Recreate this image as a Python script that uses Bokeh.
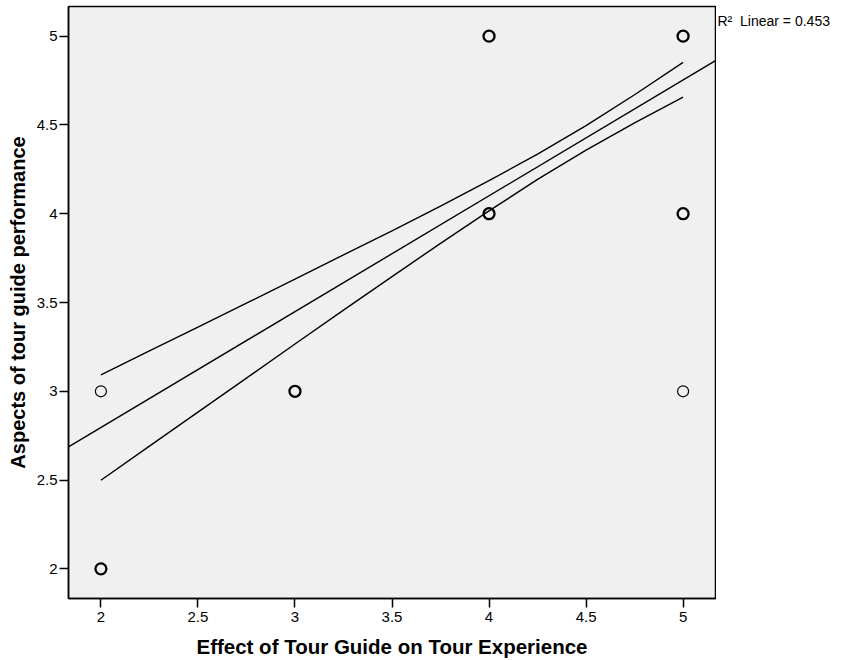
import pandas as pd
from bokeh.plotting import figure
from bokeh.layouts import row
from bokeh.models import Range1d, FixedTicker, Label
from bokeh.models import ColumnDataSource
from bokeh.embed import file_html
from bokeh.resources import INLINE

# observations (duplicates drawn thicker, as in the original)
obs_x = [2, 2, 2, 3, 3, 4, 4, 4, 4, 5, 5, 5, 5, 5]
obs_y = [3, 2, 2, 3, 3, 5, 5, 4, 4, 5, 5, 4, 4, 3]

# axis extents of the plotting box
x_min, x_max = 1.833, 5.167
y_min, y_max = 1.833, 5.167

# fitted line
fit_intercept = 1.491
fit_slope = 0.6525
r2_text = "R\u00b2\u00a0 Linear = 0.453"

# 95% mean confidence band
band_x = [2.0, 2.25, 2.5, 2.75, 3.0, 3.25, 3.5, 3.75, 4.0, 4.25, 4.5, 4.75, 5.0]
band_upper = [3.093, 3.227, 3.361, 3.496, 3.632, 3.768, 3.904, 4.043, 4.186, 4.336, 4.496, 4.670, 4.852]
band_lower = [2.499, 2.691, 2.883, 3.074, 3.266, 3.457, 3.646, 3.833, 4.016, 4.193, 4.358, 4.511, 4.656]

x_ticks = [2, 2.5, 3, 3.5, 4, 4.5, 5]
x_tick_labels = ["2", "2.5", "3", "3.5", "4", "4.5", "5"]
y_ticks = [2, 2.5, 3, 3.5, 4, 4.5, 5]
y_tick_labels = ["2", "2.5", "3", "3.5", "4", "4.5", "5"]

x_title = "Effect of Tour Guide on Tour Experience"
y_title = "Aspects of tour guide performance"

FONT = "Liberation Sans"

df = pd.DataFrame({"x": obs_x, "y": obs_y})
cnt = df.groupby(["x", "y"]).size().reset_index(name="n")
cnt["lw"] = cnt["n"].apply(lambda n: 2.3 if n > 1 else 1.2)
src = ColumnDataSource(cnt)

H = 660
BL, BT, BB = 68, 6, 62

p = figure(width=716, height=H, output_backend="svg", toolbar_location=None,
           x_range=Range1d(x_min, x_max), y_range=Range1d(y_min, y_max),
           min_border_left=BL, min_border_right=1, min_border_top=BT, min_border_bottom=BB)
p.background_fill_color = "#f0f0f0"
p.border_fill_color = "white"
p.outline_line_color = "black"
p.outline_line_width = 1.5
p.grid.visible = False

for ax in (p.xaxis[0], p.yaxis[0]):
    ax.axis_line_color = "black"
    ax.axis_line_width = 1.5
    ax.major_tick_line_color = "black"
    ax.major_tick_line_width = 1.5
    ax.major_tick_out = 9
    ax.major_tick_in = 0
    ax.minor_tick_line_color = None
    ax.major_label_text_font = FONT
    ax.major_label_text_font_size = "15px"
    ax.major_label_text_color = "black"
    ax.axis_label_text_font = FONT
    ax.axis_label_text_font_size = "20px"
    ax.axis_label_text_font_style = "bold"
    ax.axis_label_text_color = "black"

p.xaxis[0].axis_label_text_font_size = "20.5px"

p.xaxis.ticker = FixedTicker(ticks=x_ticks)
p.yaxis.ticker = FixedTicker(ticks=y_ticks)
p.xaxis.major_label_overrides = dict(zip(x_ticks, x_tick_labels))
p.yaxis.major_label_overrides = dict(zip(y_ticks, y_tick_labels))
p.xaxis.axis_label = x_title
p.yaxis.axis_label = y_title
p.xaxis.major_label_standoff = 4
p.yaxis.major_label_standoff = 2
p.xaxis.axis_label_standoff = 10
p.yaxis.axis_label_standoff = 5

p.line(band_x, band_upper, line_color="black", line_width=1.4)
p.line(band_x, band_lower, line_color="black", line_width=1.4)
fit_x = [x_min, x_max]
fit_y = [fit_intercept + fit_slope * v for v in fit_x]
p.line(fit_x, fit_y, line_color="black", line_width=1.4)

p.scatter("x", "y", source=src, marker="circle", size=11, fill_color=None,
          line_color="black", line_width="lw")

# side panel carrying the R² note beside the box
p2 = figure(width=124, height=H, output_backend="svg", toolbar_location=None,
            x_range=Range1d(0, 1), y_range=Range1d(0, 1),
            x_axis_location=None, y_axis_location=None,
            min_border_left=0, min_border_right=0, min_border_top=BT, min_border_bottom=BB)
p2.grid.visible = False
p2.outline_line_color = None
p2.background_fill_color = "white"
p2.border_fill_color = "white"
p2.add_layout(Label(x=0, y=1, x_offset=1, y_offset=-6, text=r2_text, text_font=FONT,
                    text_font_size="14px", text_baseline="top", text_align="left",
                    text_color="black"))

layout = row(p, p2)
open("out.html", "w").write(file_html(layout, INLINE))
